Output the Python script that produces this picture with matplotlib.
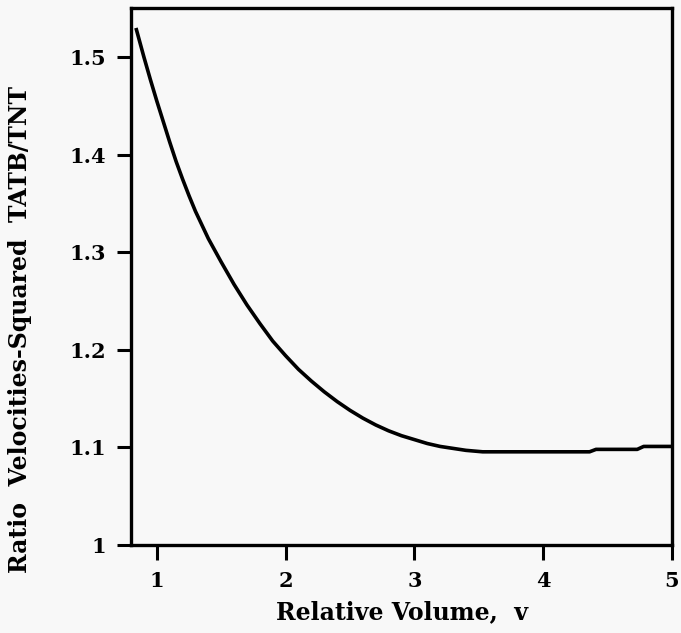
import matplotlib
matplotlib.use("Agg")
from matplotlib import pyplot as plt

# relative volume v and ratio of velocities squared (TATB/TNT)
volume = [0.842, 0.90, 0.95, 1.00, 1.05, 1.10, 1.15, 1.20, 1.25, 1.30,
          1.35, 1.40, 1.50, 1.60, 1.70, 1.80, 1.90, 2.00, 2.10, 2.20,
          2.30, 2.40, 2.50, 2.60, 2.70, 2.80, 2.90, 3.00, 3.10, 3.20,
          3.30, 3.40, 3.53, 4.00, 4.36, 4.41, 4.73, 4.78, 5.00]
ratio = [1.528, 1.500, 1.477, 1.455, 1.434, 1.413, 1.393, 1.375, 1.358, 1.342,
         1.328, 1.314, 1.290, 1.267, 1.246, 1.227, 1.209, 1.194, 1.180, 1.168,
         1.157, 1.147, 1.138, 1.130, 1.123, 1.117, 1.112, 1.108, 1.104, 1.101,
         1.099, 1.097, 1.0955, 1.0955, 1.0955, 1.098, 1.098, 1.101, 1.101]

x_ticks = [1, 2, 3, 4, 5]
y_ticks = [1.0, 1.1, 1.2, 1.3, 1.4, 1.5]
y_tick_labels = ["1", "1.1", "1.2", "1.3", "1.4", "1.5"]


def main():
    plt.rcParams['font.family'] = ['DejaVu Serif']
    plt.rcParams['font.weight'] = 'bold'

    fig = plt.figure(figsize=(6.81, 6.33), dpi=100, facecolor='#f8f8f8')
    ax = fig.add_axes([0.1924, 0.139, 0.7944, 0.848])
    ax.set_facecolor('#f8f8f8')

    ax.plot(volume, ratio, color='black', linewidth=2.6, solid_joinstyle='round')

    ax.set_xlim(0.80, 5.0)
    ax.set_ylim(1.0, 1.55)
    ax.set_xticks(x_ticks)
    ax.set_yticks(y_ticks)
    ax.set_yticklabels(y_tick_labels)

    for s in ax.spines.values():
        s.set_linewidth(2.4)
    ax.tick_params(axis='x', direction='out', length=11, width=2.2, pad=8, labelsize=15)
    ax.tick_params(axis='y', direction='out', length=10, width=2.2, pad=8, labelsize=15)

    ax.set_xlabel("Relative Volume,  v", fontsize=17, fontweight='bold', labelpad=6)
    ax.set_ylabel("Ratio  Velocities-Squared  TATB/TNT", fontsize=17, fontweight='bold')
    ax.yaxis.label.set_verticalalignment('center')
    ax.yaxis.set_label_coords(-0.205, 0.402)

    fig.savefig("out.png", dpi=100, facecolor=fig.get_facecolor())


if __name__ == "__main__":
    main()
